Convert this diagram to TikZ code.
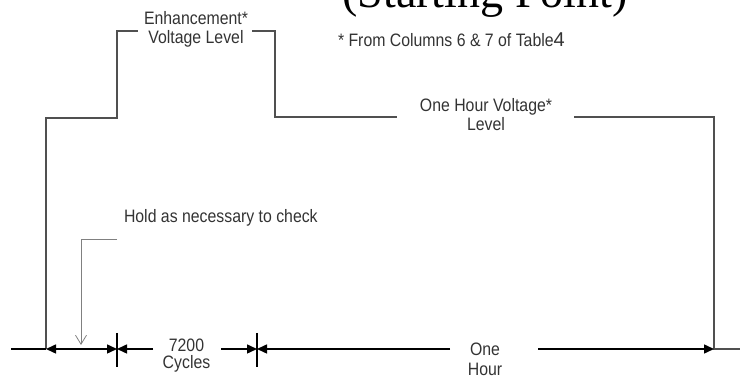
\documentclass[tikz,border=0pt]{standalone}
\usepackage{fontspec}
\setmainfont{Liberation Sans}[FakeStretch=0.88]
\newfontfamily\titlefont{Liberation Serif}
\newfontfamily\plainsans{Liberation Sans}
\usetikzlibrary{arrows.meta}
\definecolor{wave}{HTML}{505050}
\definecolor{txt}{HTML}{333333}
\definecolor{lead}{HTML}{808080}
\begin{document}
\begin{tikzpicture}[x=1pt,y=-1pt,
  lbl/.style={inner sep=0pt,outer sep=0pt,text=txt,align=center,anchor=base,
    font=\fontsize{18}{19}\selectfont},
  wavel/.style={draw=wave,line width=1.5pt,line join=miter},
  dim/.style={draw=black,line width=1.5pt},
  tipA/.style={-{Triangle[length=10pt,width=9pt]}},
  leader/.style={draw=lead,line width=0.8pt,-{Straight Barb[length=9pt,width=11pt,line width=0.8pt]}}]
\useasboundingbox (0,0) rectangle (740,379);

% title (clipped at top, as in the reference)
\node[inner sep=0pt,anchor=base,font=\titlefont\fontsize{46}{50}\selectfont] (title) at (485,8) {(Starting Point)};

% labels (anchor = baseline of last line)
\node[lbl] (enh) at (196,44) {Enhancement*\\Voltage Level};
\node[lbl,font=\fontsize{18}{19.5}\selectfont] (ohv) at (486,131) {One Hour Voltage*\\Level};
\node[lbl,anchor=base west] (note) at (338,46.5) {* From Columns 6 \& 7 of Table{\plainsans\fontsize{20}{22}\selectfont 4}};
\node[lbl,anchor=base west] (hold) at (124,223) {Hold as necessary to check};
\node[lbl,font=\fontsize{18}{17.5}\selectfont] (cyc) at (186.5,369) {7200\\Cycles};
\node[lbl,font=\fontsize{18}{20}\selectfont] (hour) at (485,376) {One\\Hour};

% waveform coordinates
\coordinate (b0) at (11,349);
\coordinate (b1) at (46,349);
\coordinate (w1) at (46,118);
\coordinate (w2) at (117,118);
\coordinate (w3) at (117,31);
\coordinate (w4) at (138,31);
\coordinate (w5) at (252,31);
\coordinate (w6) at (275,31);
\coordinate (w7) at (275,117);
\coordinate (w8) at (397,117);
\coordinate (w9) at (574,117);
\coordinate (w10) at (714,117);
\coordinate (b5) at (714,349);
\coordinate (b6) at (740,349);

\path[wavel] (b1) -- (w1) -- (w2) -- (w3) -- (w4);
\path[wavel] (w5) -- (w6) -- (w7) -- (w8);
\path[wavel] (w9) -- (w10) -- (b5) -- (b6);

% dimension line
\coordinate (b2) at (117,349);
\coordinate (b3) at (257,349);
\coordinate (c1) at (153,349);
\coordinate (c2) at (221,349);
\coordinate (h1) at (450,349);
\coordinate (h2) at (538,349);
\coordinate (t1a) at (117,333);
\coordinate (t1b) at (117,367);
\coordinate (t2a) at (257,333);
\coordinate (t2b) at (257,367);

\path[dim] (b0) -- (b1);
\path[dim,{Triangle[length=10pt,width=9pt]}-{Triangle[length=10pt,width=9pt]}] (b1) -- (b2);
\path[dim] (t1a) -- (t1b);
\path[dim,tipA] (c1) -- (b2);
\path[dim,tipA] (c2) -- (b3);
\path[dim] (t2a) -- (t2b);
\path[dim,tipA] (h1) -- (b3);
\path[dim,tipA] (h2) -- (b5);

% leader
\coordinate (l0) at (117,239);
\coordinate (l1) at (81,239);
\coordinate (l2) at (81,345);
\path[leader] (l0) -- (l1) -- (l2);
\end{tikzpicture}
\end{document}
